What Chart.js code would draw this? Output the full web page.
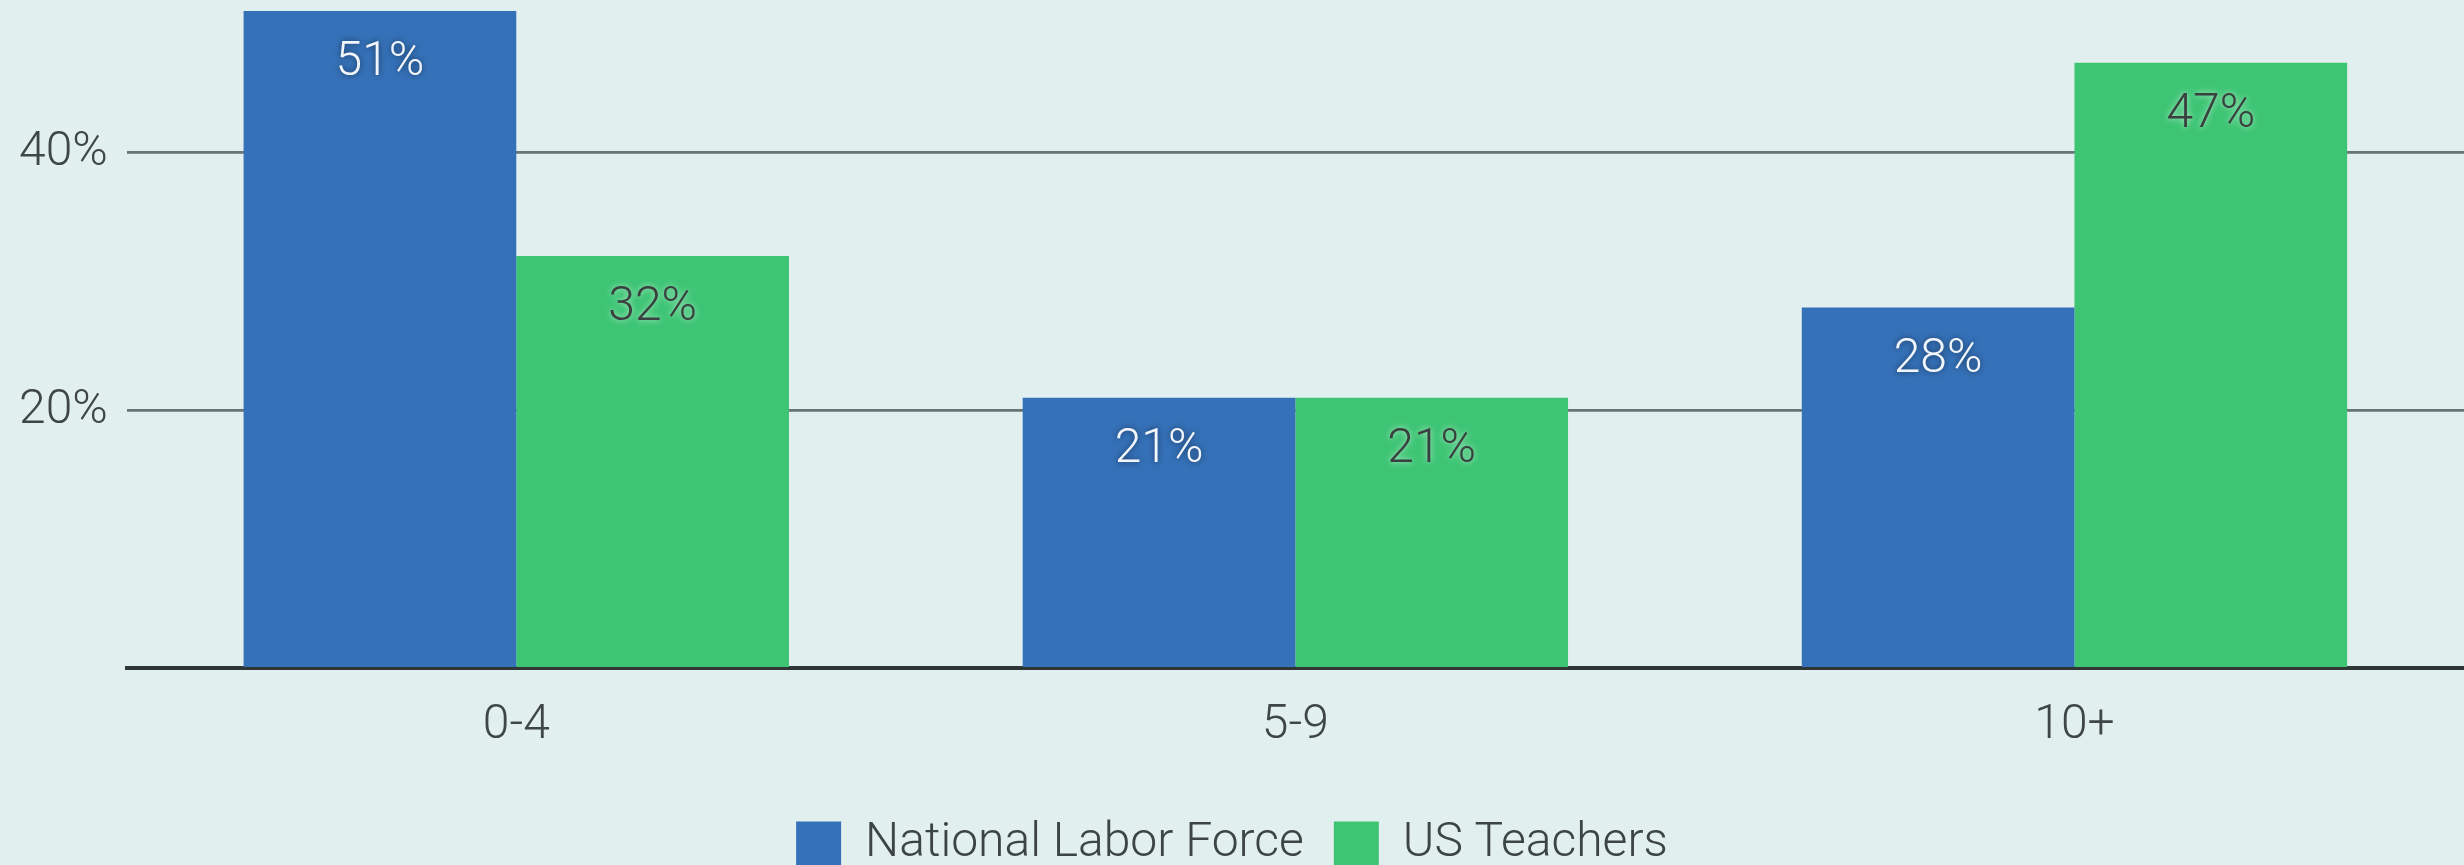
<!DOCTYPE html>
<html>
<head>
<meta charset="utf-8">
<script src="https://cdn.jsdelivr.net/npm/chart.js@4/dist/chart.umd.min.js"></script>
<style>
  html, body { margin: 0; padding: 0; background: #e2efef; overflow: hidden; }
  #wrap { position: absolute; left: 0; top: -47px; width: 2464px; height: 925px; }
</style>
</head>
<body>
<div id="wrap"><canvas id="c"></canvas></div>
<script>
const categories = ['0-4', '5-9', '10+'];
const nationalLaborForce = [51, 21, 28];
const usTeachers = [32, 21, 47];
const seriesNames = ['National Labor Force', 'US Teachers'];
const yTicks = [20, 40];

const FONT = 'Roboto, "Noto Sans", sans-serif';
const BLUE = '#3571b8';
const GREEN = '#3dc574';

const valueLabels = {
  id: 'valueLabels',
  afterDatasetsDraw(chart) {
    const ctx = chart.ctx;
    chart.data.datasets.forEach((ds, di) => {
      const meta = chart.getDatasetMeta(di);
      meta.data.forEach((el, i) => {
        ctx.save();
        ctx.font = '300 48px ' + FONT;
        ctx.textAlign = 'center';
        ctx.textBaseline = 'middle';
        if (di === 0) {
          ctx.fillStyle = '#f2f6fa';
          ctx.shadowColor = 'rgba(0,0,0,0.55)';
        } else {
          ctx.fillStyle = '#3a4040';
          ctx.shadowColor = 'rgba(255,255,255,0.7)';
        }
        ctx.shadowBlur = 6;
        ctx.fillText(ds.data[i] + '%', el.x, el.y + 52);
        ctx.restore();
      });
    });
  }
};

new Chart(document.getElementById('c'), {
  type: 'bar',
  data: {
    labels: categories,
    datasets: [
      { label: seriesNames[0], data: nationalLaborForce, backgroundColor: BLUE, borderWidth: 0 },
      { label: seriesNames[1], data: usTeachers, backgroundColor: GREEN, borderWidth: 0 }
    ]
  },
  options: {
    responsive: true,
    maintainAspectRatio: false,
    animation: false,
    layout: { padding: { top: 0, left: 0, right: 0, bottom: 0 } },
    datasets: { bar: { categoryPercentage: 0.7, barPercentage: 1.0 } },
    scales: {
      x: {
        grid: { display: false, drawTicks: false },
        border: { display: true, color: '#2f3636', width: 4 },
        ticks: { color: '#3f4646', font: { family: FONT, size: 48, weight: '300' }, padding: 29 },
        afterFit(scale) { scale.height += 6; }
      },
      y: {
        min: 0,
        max: 51.8,
        afterBuildTicks(scale) { scale.ticks = [0].concat(yTicks).map(v => ({ value: v })); },
        grid: {
          drawTicks: false,
          color: ctx => (ctx.tick && ctx.tick.value === 0) ? 'rgba(0,0,0,0)' : '#667575',
          lineWidth: 2.8
        },
        border: { display: false },
        ticks: {
          color: '#3f4646',
          font: { family: FONT, size: 48, weight: '300' },
          padding: 19,
          callback: v => v === 0 ? '' : v + '%'
        }
      }
    },
    plugins: {
      legend: {
        position: 'bottom',
        labels: {
          color: '#3c4444',
          font: { family: FONT, size: 48, weight: '300' },
          boxWidth: 45,
          boxHeight: 45,
          padding: 30
        }
      },
      tooltip: { enabled: false }
    }
  },
  plugins: [valueLabels]
});
</script>
</body>
</html>
